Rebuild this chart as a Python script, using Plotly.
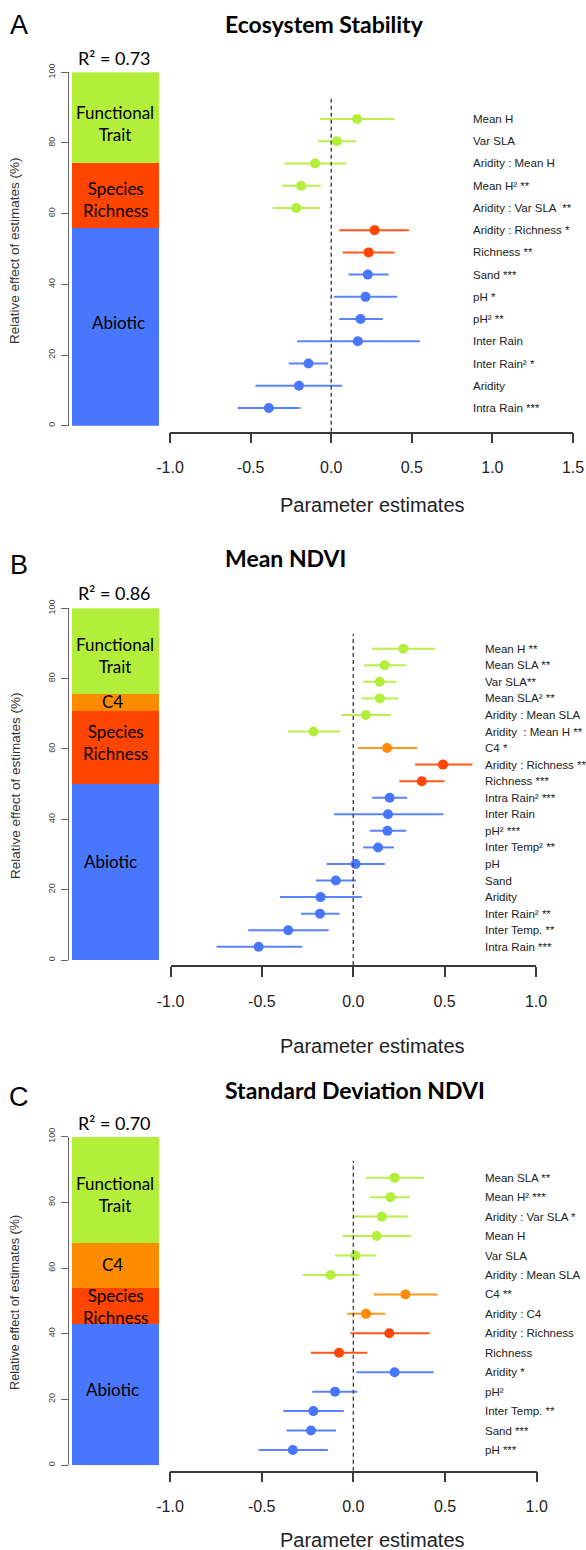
import plotly.graph_objects as go

W, H = 586, 1550

# ---------------- data ----------------
COL = {"F": "#B3EE3A", "C4": "#FF8C00", "R": "#FF4500", "A": "#4876FF"}

# Panel A – Ecosystem Stability
labels_A = ["Mean H", "Var SLA", "Aridity : Mean H", "Mean H² **", "Aridity : Var SLA  **",
            "Aridity : Richness *", "Richness **", "Sand ***", "pH *", "pH² **", "Inter Rain",
            "Inter Rain² *", "Aridity", "Intra Rain ***"]
est_A = [0.16, 0.035, -0.10, -0.186, -0.217, 0.269, 0.232, 0.227, 0.213, 0.182, 0.165, -0.141, -0.20, -0.387]
lo_A = [-0.068, -0.083, -0.29, -0.304, -0.362, 0.050, 0.072, 0.108, 0.017, 0.050, -0.211, -0.263, -0.47, -0.58]
hi_A = [0.393, 0.153, 0.093, -0.064, -0.068, 0.482, 0.393, 0.356, 0.409, 0.32, 0.55, -0.019, 0.068, -0.19]
grp_A = ["F"] * 5 + ["R"] * 2 + ["A"] * 7
share_A = {"A": 56.0, "R": 18.2, "F": 25.8}
r2_A = "R² = 0.73"
title_A = "Ecosystem Stability"
ticks_A = [-1.0, -0.5, 0.0, 0.5, 1.0, 1.5]

# Panel B – Mean NDVI
labels_B = ["Mean H **", "Mean SLA **", "Var SLA**", "Mean SLA² **", "Aridity : Mean SLA",
            "Aridity  : Mean H **", "C4 *", "Aridity : Richness **", "Richness ***", "Intra Rain² ***",
            "Inter Rain", "pH² ***", "Inter Temp² **", "pH", "Sand", "Aridity", "Inter Rain² **",
            "Inter Temp. **", "Intra Rain ***"]
est_B = [0.274, 0.172, 0.145, 0.145, 0.069, -0.217, 0.185, 0.491, 0.375, 0.199, 0.19, 0.187, 0.136,
         0.013, -0.095, -0.179, -0.182, -0.356, -0.518]
lo_B = [0.103, 0.06, 0.054, 0.045, -0.067, -0.357, 0.024, 0.339, 0.252, 0.103, -0.105, 0.091, 0.054,
        -0.146, -0.204, -0.401, -0.286, -0.575, -0.748]
hi_B = [0.447, 0.288, 0.237, 0.246, 0.205, -0.072, 0.35, 0.652, 0.5, 0.295, 0.493, 0.29, 0.223,
        0.173, 0.015, 0.047, -0.075, -0.135, -0.279]
grp_B = ["F"] * 6 + ["C4"] + ["R"] * 2 + ["A"] * 10
share_B = {"A": 50.0, "R": 20.9, "C4": 4.6, "F": 24.5}
r2_B = "R² = 0.86"
title_B = "Mean NDVI"
ticks_B = [-1.0, -0.5, 0.0, 0.5, 1.0]

# Panel C – Standard Deviation NDVI
labels_C = ["Mean SLA **", "Mean H² ***", "Aridity : Var SLA *", "Mean H", "Var SLA",
            "Aridity : Mean SLA", "C4 **", "Aridity : C4", "Aridity : Richness", "Richness",
            "Aridity *", "pH²", "Inter Temp. **", "Sand ***", "pH ***"]
est_C = [0.225, 0.202, 0.155, 0.127, 0.011, -0.124, 0.284, 0.069, 0.196, -0.078, 0.225, -0.1,
         -0.218, -0.231, -0.33]
lo_C = [0.069, 0.091, 0.004, -0.058, -0.1, -0.276, 0.111, -0.033, -0.016, -0.232, 0.016, -0.224,
        -0.382, -0.365, -0.516]
hi_C = [0.385, 0.309, 0.3, 0.316, 0.122, 0.029, 0.46, 0.173, 0.416, 0.076, 0.438, 0.022,
        -0.052, -0.095, -0.139]
grp_C = ["F"] * 6 + ["C4"] * 2 + ["R"] * 2 + ["A"] * 5
share_C = {"A": 42.9, "R": 10.9, "C4": 13.7, "F": 32.5}
r2_C = "R² = 0.70"
title_C = "Standard Deviation NDVI"
ticks_C = [-1.0, -0.5, 0.0, 0.5, 1.0]

GROUP_NAME = {"F": "Functional<br>Trait", "C4": "C4", "R": "Species<br>Richness", "A": "Abiotic"}


def px(x):
    return x / W


def py(y):
    return 1 - y / H


panels = [
    dict(letter="A", labels=labels_A, est=est_A, lo=lo_A, hi=hi_A, grp=grp_A, share=share_A,
         r2=r2_A, title=title_A, ticks=ticks_A,
         letter_y=25, title_y=24, r2_y=58, bar_top=72.3, bar_bot=425.7,
         fx0=170, fx1=573, ftop=98, faxis=431.7, row0=119, rowgap=22.23,
         lab_x=470.7, tickstand=10, pe_y=505, ylab_y=251, ylab_size=13.5,
         glab={"F": (115, 123.5), "R": (115, 199), "A": (118, 322)}),
    dict(letter="B", labels=labels_B, est=est_B, lo=lo_B, hi=hi_B, grp=grp_B, share=share_B,
         r2=r2_B, title=title_B, ticks=ticks_B,
         letter_y=565, title_y=558, r2_y=593, bar_top=608.3, bar_bot=960,
         fx0=170.5, fx1=536, ftop=634.3, faxis=965, row0=648.7, rowgap=16.56,
         lab_x=483.3, tickstand=11, pe_y=1046, ylab_y=786, ylab_size=13.5,
         glab={"F": (115, 655.3), "C4": (112, 701.7), "R": (115, 742), "A": (110, 861)}),
    dict(letter="C", labels=labels_C, est=est_C, lo=lo_C, hi=hi_C, grp=grp_C, share=share_C,
         r2=r2_C, title=title_C, ticks=ticks_C,
         letter_y=1097, title_y=1090, r2_y=1123, bar_top=1136.7, bar_bot=1465,
         fx0=170, fx1=536.7, ftop=1160.7, faxis=1470.7, row0=1177.7, rowgap=19.45,
         lab_x=483.3, tickstand=10, pe_y=1540, ylab_y=1303, ylab_size=12.7,
         glab={"F": (115, 1194), "C4": (112, 1264), "R": (115, 1306), "A": (112, 1389.3)}),
]

fig = go.Figure()
layout = dict(width=W, height=H, autosize=False,
              margin=dict(l=0, r=0, t=0, b=0, pad=0, autoexpand=False),
              paper_bgcolor="white", plot_bgcolor="white", showlegend=False, barmode="stack")
annotations = []
shapes = []

AX_COLOR = "#3a3a3a"
TXT = "Liberation Sans, Arial, sans-serif"
CAL = "Lato, Open Sans, sans-serif"

for k, p in enumerate(panels):
    bx, fx = 2 * k + 1, 2 * k + 2
    bxn, byn = f"x{bx}", f"y{bx}"
    fxn, fyn = f"x{fx}", f"y{fx}"

    # ---- stacked bar of relative effects ----
    for g in ["A", "R", "C4", "F"]:
        if g in p["share"]:
            fig.add_trace(go.Bar(x=[0], y=[p["share"][g]], width=1, marker_color=COL[g],
                                 marker_line_width=0, xaxis=bxn, yaxis=byn, hoverinfo="skip"))
    layout[f"xaxis{bx}"] = dict(domain=[px(72), px(159)], range=[-0.5, 0.5], visible=False,
                                anchor=byn, fixedrange=True, automargin=False)
    layout[f"yaxis{bx}"] = dict(domain=[py(p["bar_bot"]), py(p["bar_top"])], range=[0, 100],
                                anchor="free", position=px(68), showline=True, linecolor="#666",
                                linewidth=1.3, ticks="outside", ticklen=7, tickcolor="#666",
                                tickvals=[0, 20, 40, 60, 80, 100], tickangle=-90,
                                tickfont=dict(family=TXT, size=9, color="#444"),
                                showgrid=False, zeroline=False, ticklabelstandoff=2,
                                automargin=False)

    # ---- forest plot ----
    n = len(p["labels"])
    top_val = (p["row0"] - p["ftop"]) / p["rowgap"]
    bot_val = -(p["faxis"] - p["row0"]) / p["rowgap"]
    rows = [-i for i in range(n)]
    for g in ["F", "C4", "R", "A"]:
        idx = [i for i in range(n) if p["grp"][i] == g]
        if not idx:
            continue
        xs, ys = [], []
        for i in idx:
            xs += [p["lo"][i], p["hi"][i], None]
            ys += [rows[i], rows[i], None]
        fig.add_trace(go.Scatter(x=xs, y=ys, mode="lines", line=dict(color=COL[g], width=2),
                                 xaxis=fxn, yaxis=fyn, hoverinfo="skip", opacity=0.9))
        fig.add_trace(go.Scatter(x=[p["est"][i] for i in idx], y=[rows[i] for i in idx],
                                 mode="markers", marker=dict(color=COL[g], size=10, line_width=0),
                                 xaxis=fxn, yaxis=fyn))
    layout[f"xaxis{fx}"] = dict(domain=[px(p["fx0"]), px(p["fx1"])],
                                range=[p["ticks"][0], p["ticks"][-1]], anchor=fyn,
                                showline=True, linecolor=AX_COLOR, linewidth=1.5, ticks="outside",
                                ticklen=10, tickwidth=1.5, tickcolor=AX_COLOR, tickvals=p["ticks"],
                                ticktext=[f"{t:.1f}" for t in p["ticks"]],
                                tickfont=dict(family=TXT, size=16, color="#222"),
                                ticklabelstandoff=p["tickstand"], showgrid=False, zeroline=False,
                                automargin=False)
    layout[f"yaxis{fx}"] = dict(domain=[py(p["faxis"]), py(p["ftop"])], range=[bot_val, top_val],
                                visible=False, anchor=fxn, automargin=False)
    shapes.append(dict(type="line", xref=fxn, yref=f"{fyn} domain", x0=0, x1=0, y0=0, y1=1,
                       line=dict(color="#444", width=1.4, dash="4px,3px")))

    for i, lab in enumerate(p["labels"]):
        annotations.append(dict(x=px(p["lab_x"]), y=rows[i], xref="paper", yref=fyn, text=lab,
                                showarrow=False, xanchor="left", yanchor="middle",
                                font=dict(family=TXT, size=11.5, color="#222")))

    # ---- texts ----
    annotations.append(dict(x=px(18.5), y=py(p["letter_y"]), xref="paper", yref="paper",
                            text=p["letter"], showarrow=False, xanchor="center", yanchor="middle",
                            font=dict(family=TXT, size=27, color="black")))
    annotations.append(dict(x=px(223), y=py(p["title_y"]), xref="paper", yref="paper",
                            text=f"<b>{p['title']}</b>", showarrow=False, xanchor="left",
                            yanchor="middle", font=dict(family=CAL, size=23, color="black")))
    annotations.append(dict(x=px(114), y=py(p["r2_y"]), xref="paper", yref="paper",
                            text=p["r2"], showarrow=False, xanchor="center", yanchor="middle",
                            font=dict(family=CAL, size=18, color="black")))
    annotations.append(dict(x=px(372), y=py(p["pe_y"]), xref="paper", yref="paper",
                            text="Parameter estimates", showarrow=False, xanchor="center",
                            yanchor="middle", font=dict(family=TXT, size=20, color="#222")))
    annotations.append(dict(x=px(15), y=py(p["ylab_y"]), xref="paper", yref="paper",
                            text="Relative effect of estimates (%)", textangle=-90,
                            showarrow=False, xanchor="center", yanchor="middle",
                            font=dict(family=TXT, size=p["ylab_size"], color="#333")))
    for g, (gx, gy) in p["glab"].items():
        annotations.append(dict(x=px(gx), y=py(gy), xref="paper", yref="paper",
                                text=GROUP_NAME[g], showarrow=False, xanchor="center",
                                yanchor="middle",
                                font=dict(family=CAL, size=17, color="black")))

layout["annotations"] = annotations
layout["shapes"] = shapes
fig.update_layout(**layout)
fig.write_html(
    "out.html",
    config={"responsive": False, "displayModeBar": False},
    post_script=("document.body.style.margin='0';document.body.style.padding='0';"
                 "document.body.style.overflow='hidden';"
                 "document.documentElement.style.overflow='hidden';"),
)
